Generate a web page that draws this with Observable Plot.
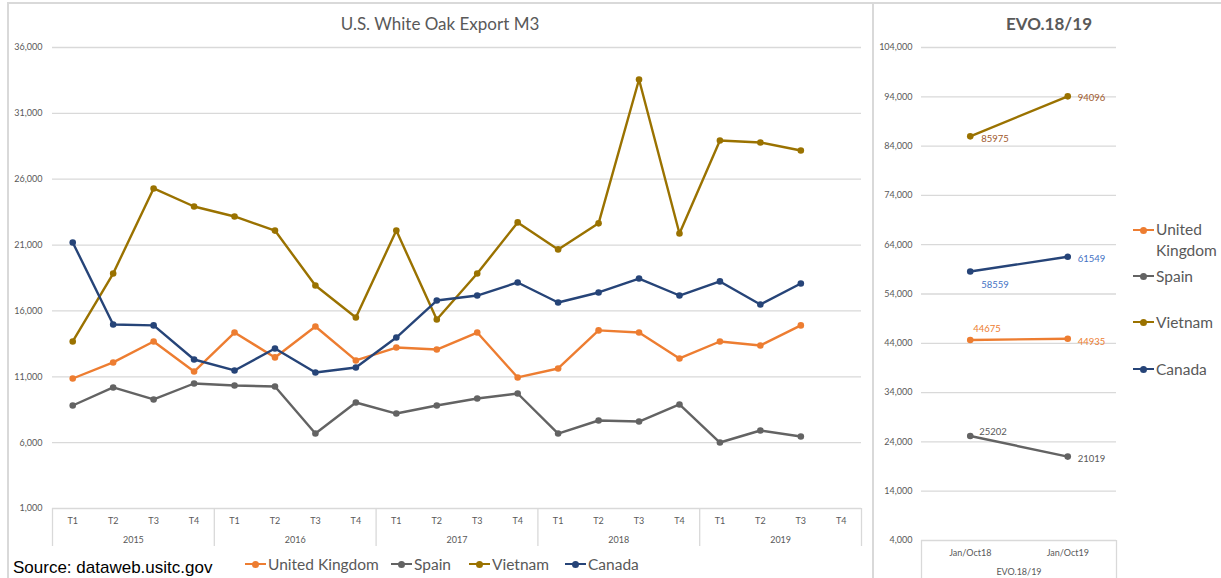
<!DOCTYPE html>
<html><head><meta charset="utf-8">
<script src="https://cdn.jsdelivr.net/npm/d3@7"></script>
<script src="https://cdn.jsdelivr.net/npm/@observablehq/plot@0.6"></script>
<style>
body{margin:0;background:#fff;}
#wrap{position:relative;width:1221px;height:578px;overflow:hidden;font-family:Lato,"Open Sans",sans-serif;color:#595959;}
.abs{position:absolute;}
#left{left:0;top:0;}
#right{left:873px;top:0;}
.border{position:absolute;background:#d9d9d9;}
.title{position:absolute;font-size:17px;color:#595959;white-space:nowrap;transform:translate(-50%,-50%);}
.lg{position:absolute;display:flex;align-items:center;font-size:15.5px;color:#595959;white-space:nowrap;transform:translateY(-50%);}
.sw{position:relative;width:21px;height:2px;margin-right:2px;}
.sw i{position:absolute;left:7px;top:-2.5px;width:7px;height:7px;border-radius:50%;}
#source{position:absolute;left:13px;top:568px;transform:translateY(-50%);font-family:"Liberation Sans",Arial,sans-serif;font-size:17px;color:#000;white-space:nowrap;}
</style></head><body>
<div id="wrap">
  <div class="border" style="left:7px;top:2px;width:1214px;height:2px;"></div>
  <div class="border" style="left:7px;top:2px;width:2px;height:576px;"></div>
  <div class="border" style="left:872px;top:2px;width:2px;height:576px;"></div>
  <div id="left" class="abs"></div>
  <div id="right" class="abs"></div>
  <div class="title" style="left:440px;top:23px;">U.S. White Oak Export M3</div>
  <div class="title" style="left:1049px;top:23px;font-weight:bold;">EVO.18/19</div>
  <div id="source">Source: dataweb.usitc.gov</div>
</div>
<script>
// ---------- data ----------
const years = ["2015", "2016", "2017", "2018", "2019"];
const quarters = ["T1", "T2", "T3", "T4"];
const seriesNames = ["United Kingdom", "Spain", "Vietnam", "Canada"];
const seriesColors = ["#ED7D31", "#636363", "#9A7200", "#264478"];
const labelColors = ["#ED7D31", "#595959", "#A0592C", "#4472C4"];

const ukValues      = [10870, 12090, 13680, 11400, 14360, 12470, 14820, 12240, 13220, 13070, 14360, 10950, 11630, 14520, 14360, 12390, 13680, 13380, 14900];
const spainValues   = [8820, 10190, 9280, 10490, 10340, 10260, 6690, 9050, 8210, 8820, 9350, 9730, 6690, 7680, 7600, 8900, 6010, 6920, 6470];
const vietnamValues = [13680, 18840, 25300, 23930, 23170, 22100, 17930, 15500, 22100, 15350, 18840, 22720, 20670, 22650, 33570, 21880, 28940, 28790, 28180];
const canadaValues  = [21200, 14970, 14900, 12310, 11480, 13150, 11330, 11700, 13980, 16790, 17170, 18160, 16640, 17400, 18460, 17170, 18240, 16490, 18080];

const leftTicks = [1000, 6000, 11000, 16000, 21000, 26000, 31000, 36000];

const evoPeriods = ["Jan/Oct18", "Jan/Oct19"];
const evoGroup = "EVO.18/19";
const ukEvo      = [44675, 44935];
const spainEvo   = [25202, 21019];
const vietnamEvo = [85975, 94096];
const canadaEvo  = [58559, 61549];
const rightTicks = [4000, 14000, 24000, 34000, 44000, 54000, 64000, 74000, 84000, 94000, 104000];

// ---------- build tables ----------
const seriesValues = [ukValues, spainValues, vietnamValues, canadaValues];
const evoValues = [ukEvo, spainEvo, vietnamEvo, canadaEvo];
const nPeriods = years.length * quarters.length;
const rows = [];
seriesNames.forEach((s, k) => seriesValues[k].forEach((v, i) => rows.push({series: s, i: i + 0.5, v})));
const evoRows = [];
seriesNames.forEach((s, k) => evoValues[k].forEach((v, i) => evoRows.push({series: s, k, p: i, i: i + 0.5, v})));

const fmt = d3.format(",");
const font = "Lato, 'Open Sans', sans-serif";
const grid = "#d9d9d9";
const tickText = "#595959";

// ---------- left chart ----------
const left = Plot.plot({
  width: 870, height: 550,
  marginLeft: 52, marginRight: 9, marginTop: 47, marginBottom: 42,
  style: {fontFamily: font, background: "transparent", overflow: "visible"},
  x: {type: "linear", domain: [0, nPeriods], axis: null},
  y: {type: "linear", domain: [1000, 36000], axis: null},
  color: {domain: seriesNames, range: seriesColors},
  marks: [
    Plot.ruleY(leftTicks, {stroke: grid, strokeWidth: 1.3}),
    Plot.axisY({ticks: leftTicks, tickSize: 0, tickPadding: 10, tickFormat: fmt, fontSize: 9, fill: tickText, anchor: "left", label: null}),
    Plot.axisX({ticks: d3.range(0, nPeriods + 1, 4), tickSize: 38, stroke: grid, strokeWidth: 1.3, tickFormat: () => "", anchor: "bottom", label: null}),
    Plot.axisX({ticks: d3.range(nPeriods).map(i => i + 0.5), tickSize: 0, tickPadding: 9, fontSize: 9, fill: tickText,
      tickFormat: d => quarters[Math.floor(d) % 4], anchor: "bottom", label: null}),
    Plot.axisX({ticks: years.map((y, j) => j * 4 + 2), tickSize: 0, tickPadding: 28, fontSize: 9, fill: tickText,
      tickFormat: d => years[Math.round((d - 2) / 4)], anchor: "bottom", label: null}),
    Plot.line(rows, {x: "i", y: "v", z: "series", stroke: "series", strokeWidth: 2.4}),
    Plot.dot(rows, {x: "i", y: "v", fill: "series", r: 3.3})
  ]
});
document.getElementById("left").appendChild(left);

// ---------- right chart ----------
const labelSpec = [
  [{dx: 3, dy: -11, a: "start"}, {dx: 10, dy: 3, a: "start"}],
  [{dx: 9, dy: -4, a: "start"}, {dx: 10, dy: 2, a: "start"}],
  [{dx: 11, dy: 3, a: "start"}, {dx: 10, dy: 2, a: "start"}],
  [{dx: 11, dy: 13, a: "start"}, {dx: 10, dy: 2, a: "start"}]
];
const labelMarks = [];
evoRows.forEach(d => {
  const s = labelSpec[d.k][d.p];
  labelMarks.push(Plot.text([d], {x: "i", y: "v", text: d => String(d.v), dx: s.dx, dy: s.dy, textAnchor: s.a,
    fill: labelColors[d.k], fontSize: 9.5}));
});

const right = Plot.plot({
  width: 348, height: 578,
  marginLeft: 48, marginRight: 105, marginTop: 47, marginBottom: 38,
  style: {fontFamily: font, background: "transparent", overflow: "visible"},
  x: {type: "linear", domain: [0, 2], axis: null},
  y: {type: "linear", domain: [4000, 104000], axis: null},
  color: {domain: seriesNames, range: seriesColors},
  marks: [
    Plot.ruleY(rightTicks, {stroke: grid, strokeWidth: 1.3}),
    Plot.axisY({ticks: rightTicks, tickSize: 0, tickPadding: 9, tickFormat: fmt, fontSize: 9, fill: tickText, anchor: "left", label: null}),
    Plot.axisX({ticks: [0, 2], tickSize: 40, stroke: grid, strokeWidth: 1.3, tickFormat: () => "", anchor: "bottom", label: null}),
    Plot.axisX({ticks: [0.5, 1.5], tickSize: 0, tickPadding: 9, fontSize: 9, fill: tickText,
      tickFormat: d => evoPeriods[Math.floor(d)], anchor: "bottom", label: null}),
    Plot.axisX({ticks: [1], tickSize: 0, tickPadding: 28, fontSize: 9, fill: tickText,
      tickFormat: () => evoGroup, anchor: "bottom", label: null}),
    Plot.line(evoRows, {x: "i", y: "v", z: "series", stroke: "series", strokeWidth: 2.4}),
    Plot.dot(evoRows, {x: "i", y: "v", fill: "series", r: 3.3}),
    ...labelMarks
  ]
});
document.getElementById("right").appendChild(right);

// ---------- legends ----------
const wrap = document.getElementById("wrap");
function legendItem(name, color, x, y, html) {
  const el = document.createElement("div");
  el.className = "lg";
  el.style.left = x + "px";
  el.style.top = y + "px";
  el.innerHTML = `<span class="sw" style="background:${color}"><i style="background:${color}"></i></span><span>${html || name}</span>`;
  wrap.appendChild(el);
  return el;
}
const bottomX = [245, 391, 469, 565];
seriesNames.forEach((s, k) => legendItem(s, seriesColors[k], bottomX[k], 564));
const rightY = [230, 276, 322, 369];
seriesNames.forEach((s, k) => {
  const el = legendItem(s, seriesColors[k], 1133, rightY[k], k === 0 ? "United<br>Kingdom" : null);
  if (k === 0) { el.style.alignItems = "flex-start"; el.style.transform = "translateY(-11px)"; el.style.lineHeight = "21px";
    el.querySelector(".sw").style.marginTop = "10px"; }
});
</script>
</body></html>
